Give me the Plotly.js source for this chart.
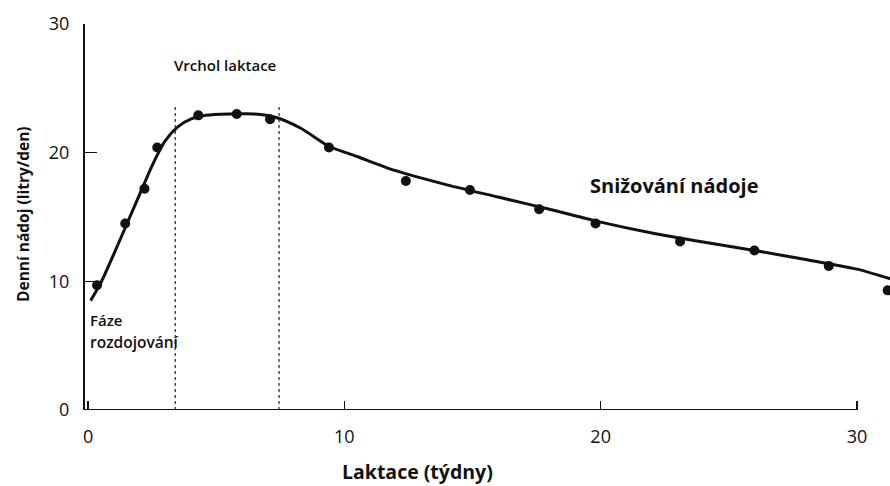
<!DOCTYPE html>
<html>
<head>
<meta charset="utf-8">
<script src="https://cdn.plot.ly/plotly-3.0.1.min.js"></script>
<style>html,body{margin:0;padding:0;background:#fff;}#chart{width:890px;height:486px;}</style>
</head>
<body>
<div id="chart"></div>
<script>
// Measured points (weeks, litres/day)
const weeks = [0.35, 1.45, 2.2, 2.7, 4.3, 5.8, 7.1, 9.4, 12.4, 14.9, 17.6, 19.8, 23.1, 26.0, 28.9, 31.2];
const milk  = [9.7, 14.5, 17.2, 20.4, 22.9, 23.0, 22.6, 20.4, 17.8, 17.1, 15.6, 14.5, 13.1, 12.4, 11.2, 9.3];

// Fitted lactation curve
const curveWeeks = [0.1, 0.5, 1.0, 1.5, 2.0, 2.5, 3.0, 3.5, 4.0, 4.6, 5.5, 6.5, 7.3, 8.3, 9.4, 10.5, 12, 14, 16, 18, 20, 22, 24, 26, 28, 30, 31.3];
const curveMilk  = [8.5, 9.9, 12.1, 14.4, 16.7, 19.0, 20.9, 22.0, 22.6, 22.9, 23.0, 23.0, 22.75, 21.9, 20.5, 19.7, 18.6, 17.5, 16.55, 15.6, 14.6, 13.75, 13.05, 12.4, 11.7, 10.95, 10.2];

// Peak lactation phase boundaries (weeks) and height
const peakBounds = [3.4, 7.45];
const peakTop = 23.7;

const xTicks = [0, 10, 20, 30];
const yTicks = [0, 10, 20, 30];

const FONT = '"Open Sans", Lato, sans-serif';
const M = {l: 85, r: 0, t: 24, b: 76};
const W = 890, H = 486;
const px2x = p => (p - M.l) / (W - M.l - M.r);
const px2y = p => (H - p - M.b) / (H - M.t - M.b);

const traces = [
  {
    x: curveWeeks, y: curveMilk, mode: 'lines', type: 'scatter',
    line: {color: '#111', width: 3, shape: 'spline', smoothing: 0.7},
    hoverinfo: 'skip', showlegend: false
  },
  {
    x: weeks, y: milk, mode: 'markers', type: 'scatter',
    marker: {color: '#111', size: 10},
    cliponaxis: false, showlegend: false
  }
];

const shapes = peakBounds.map(b => ({
  type: 'line', xref: 'x', yref: 'y', x0: b, x1: b, y0: 0, y1: peakTop,
  line: {color: '#222', width: 1.2, dash: 'dot'}
}));
shapes.push({
  type: 'line', xref: 'x', yref: 'y', x0: -0.12, x1: xTicks[xTicks.length - 1], y0: 0, y1: 0,
  line: {color: '#111', width: 2}
});

const layout = {
  width: W, height: H,
  margin: M,
  paper_bgcolor: '#fff', plot_bgcolor: '#fff',
  font: {family: FONT, color: '#111'},
  xaxis: {
    range: [-0.12, 31.29],
    tickvals: xTicks, ticktext: xTicks.map(String),
    ticks: 'inside', ticklen: 9, tickwidth: 1.5, tickcolor: '#111',
    showline: false, showgrid: false, zeroline: false,
    ticklabelstandoff: 14,
    tickfont: {size: 18, family: FONT, color: '#111'},
    fixedrange: true
  },
  yaxis: {
    range: [0, 30],
    tickvals: yTicks, ticktext: yTicks.map(String),
    ticks: 'inside', ticklen: 12, tickwidth: 1.5, tickcolor: '#111',
    showline: true, linecolor: '#111', linewidth: 2,
    showgrid: false, zeroline: false,
    ticklabelstandoff: 10,
    tickfont: {size: 18, family: FONT, color: '#111'},
    fixedrange: true
  },
  shapes: shapes,
  annotations: [
    {x: px2x(417), y: px2y(471), xref: 'paper', yref: 'paper', xanchor: 'center', yanchor: 'middle',
     text: 'Laktace (týdny)', showarrow: false,
     font: {size: 19.5, family: FONT, weight: 'bold', color: '#111'}},
    {x: px2x(23), y: px2y(214), xref: 'paper', yref: 'paper', xanchor: 'center', yanchor: 'middle',
     text: 'Denní nádoj (litry/den)', showarrow: false, textangle: -90,
     font: {size: 15.5, family: FONT, weight: 'bold', color: '#111'}},
    {x: 5.35, y: 26.8, xref: 'x', yref: 'y', text: 'Vrchol laktace', showarrow: false,
     font: {size: 15, family: FONT, weight: 600, color: '#111'}},
    {x: 0.0, y: 7.0, xref: 'x', yref: 'y', text: 'Fáze', showarrow: false,
     xanchor: 'left', yanchor: 'middle',
     font: {size: 15, family: FONT, weight: 600, color: '#111'}},
    {x: 0.0, y: 5.3, xref: 'x', yref: 'y', text: 'rozdojování', showarrow: false,
     xanchor: 'left', yanchor: 'middle',
     font: {size: 15.5, family: FONT, weight: 600, color: '#111'}},
    {x: 19.5, y: 17.45, xref: 'x', yref: 'y', text: 'Snižování nádoje', showarrow: false,
     xanchor: 'left', yanchor: 'middle',
     font: {size: 20, family: FONT, weight: 'bold', color: '#111'}}
  ]
};

Plotly.newPlot('chart', traces, layout, {displayModeBar: false, staticPlot: true});
</script>
</body>
</html>
